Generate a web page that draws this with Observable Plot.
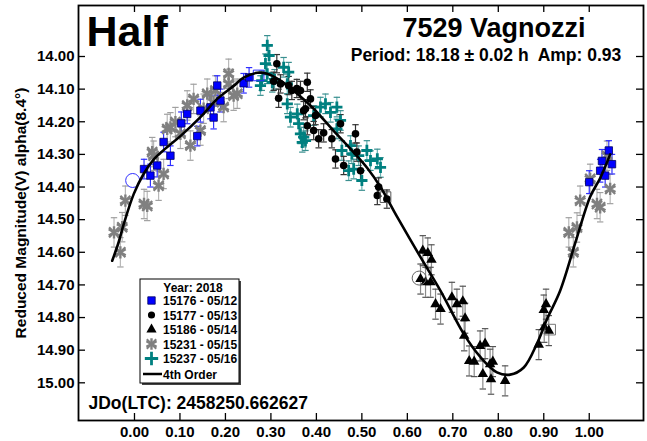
<!DOCTYPE html>
<html><head><meta charset="utf-8">
<script src="https://cdn.jsdelivr.net/npm/d3@7"></script>
<script src="https://cdn.jsdelivr.net/npm/@observablehq/plot@0.6"></script>
<style>body{margin:0;background:#fff} #chart{position:relative;width:647px;height:441px}</style>
</head><body><div id="chart"></div>
<script>
// ---------- data ----------
const xTicks = [0.0,0.1,0.2,0.3,0.4,0.5,0.6,0.7,0.8,0.9,1.0];
const yTicks = [14.0,14.1,14.2,14.3,14.4,14.5,14.6,14.7,14.8,14.9,15.0];

// 15176 - 05/12 (blue squares)
const s15176Phase = [0.021,0.035,0.050,0.064,0.079,0.103,0.116,0.138,0.145,0.167,0.174,0.182,0.189,0.240,0.252,1.000,1.024,1.028,1.035,1.043,1.050];
const s15176Mag   = [14.345,14.365,14.334,14.262,14.304,14.205,14.176,14.244,14.166,14.156,14.187,14.089,14.135,14.082,14.064,14.385,14.350,14.320,14.365,14.288,14.330];
const s15176Err   = [0.030,0.035,0.035,0.030,0.030,0.035,0.030,0.030,0.035,0.035,0.035,0.030,0.035,0.030,0.030,0.035,0.035,0.035,0.035,0.030,0.030];

// 15177 - 05/13 (black circles)
const s15177Phase = [0.306,0.313,0.317,0.321,0.339,0.346,0.357,0.365,0.372,0.376,0.380,0.380,0.387,0.394,0.398,0.405,0.416,0.434,0.442,0.453,0.460,0.486,0.489,0.497,0.534,0.537,0.555];
const s15177Mag   = [14.076,14.022,14.128,14.084,14.089,14.104,14.098,14.104,14.166,14.160,14.079,14.212,14.130,14.227,14.181,14.252,14.234,14.252,14.314,14.206,14.334,14.237,14.293,14.350,14.426,14.400,14.437];
const s15177Err   = 0.028;

// 15186 - 05/14 (black triangles)
const s15186Phase = [0.629,0.634,0.640,0.645,0.651,0.653,0.662,0.673,0.698,0.709,0.722,0.725,0.727,0.736,0.747,0.760,0.766,0.771,0.782,0.784,0.788,0.815,0.889,0.900,0.901,0.905,0.911];
const s15186Mag   = [14.682,14.595,14.692,14.602,14.692,14.623,14.759,14.774,14.738,14.759,14.750,14.856,14.802,14.933,14.935,14.887,14.973,14.880,14.943,14.989,14.935,14.994,14.883,14.777,14.830,14.759,14.840];
const s15186Err   = 0.046;

// 15231 - 05/15 (grey asterisks)
const s15231Phase = [-0.045,-0.031,-0.027,-0.020,0.021,0.028,0.039,0.042,0.053,0.064,0.072,0.079,0.090,0.101,0.116,0.123,0.130,0.145,0.152,0.160,0.174,0.178,0.196,0.207,0.207,0.218,0.226,0.955,0.965,0.973,0.980,1.002,1.017,1.024,1.039,1.046];
const s15231Mag   = [14.539,14.600,14.523,14.442,14.452,14.458,14.293,14.304,14.396,14.360,14.222,14.217,14.201,14.237,14.150,14.273,14.130,14.227,14.160,14.114,14.140,14.104,14.155,14.053,14.084,14.120,14.114,14.539,14.600,14.524,14.442,14.375,14.452,14.462,14.304,14.406];
const s15231Err   = 0.045;

// 15237 - 05/16 (teal plus)
const s15237Phase = [0.277,0.280,0.288,0.292,0.296,0.292,0.303,0.308,0.328,0.336,0.339,0.343,0.336,0.358,0.361,0.365,0.369,0.372,0.376,0.394,0.409,0.420,0.431,0.445,0.445,0.453,0.456,0.471,0.475,0.478,0.482,0.493,0.500,0.511,0.519,0.534,0.541];
const s15237Mag   = [14.089,14.074,14.022,13.966,13.997,14.053,14.079,14.070,14.033,14.084,14.048,14.186,14.145,14.176,14.206,14.237,14.263,14.247,14.258,14.181,14.155,14.145,14.171,14.155,14.222,14.196,14.288,14.350,14.273,14.298,14.345,14.304,14.380,14.288,14.319,14.314,14.340];
const s15237Err   = 0.030;

// 4th order Fourier fit
const fitPhase = [-0.049,-0.035,-0.0235,-0.0015,0.020,0.042,0.070,0.101,0.145,0.182,0.218,0.240,0.270,0.292,0.321,0.358,0.394,0.438,0.475,0.511,0.541,0.577,0.629,0.673,0.724,0.760,0.797,0.826,0.856,0.885,0.907,0.936,0.973,1.002,1.025,1.046];
const fitMag   = [14.626,14.57,14.513,14.421,14.36,14.316,14.28,14.244,14.186,14.130,14.090,14.065,14.050,14.053,14.074,14.114,14.160,14.228,14.283,14.340,14.400,14.490,14.615,14.718,14.850,14.920,14.968,14.975,14.953,14.880,14.805,14.718,14.554,14.430,14.370,14.300];

// marked (outlined) points
const ringPhase = [-0.004,0.626];
const ringMag   = [14.380,14.679];
const ringColor = ["#3030ff","#666666"];
const boxPhase  = [0.273,0.552,0.914];
const boxMag    = [14.058,14.431,14.837];
const boxColor  = ["#3030ff","#555555","#777777"];

const seriesNames = ["15176 - 05/12","15177 - 05/13","15186 - 05/14","15231 - 05/15","15237 - 05/16"];
const yearLabel = "Year: 2018";
const fitLabel = "4th Order";
const titleText = "Half";
const objectText = "7529 Vagnozzi";
const periodText = "Period: 18.18 \u00b1 0.02 h  Amp: 0.93";
const jdText = "JDo(LTC): 2458250.662627";
const yLabelText = "Reduced Magnitude(V) alpha(8.4\u00b0)";

// ---------- build ----------
const rows = (ph, mg, er) => ph.map((p, i) => ({phase: p, mag: mg[i], err: Array.isArray(er) ? er[i] : er}));
const blue = rows(s15176Phase, s15176Mag, s15176Err);
const circ = rows(s15177Phase, s15177Mag, s15177Err);
const tri  = rows(s15186Phase, s15186Mag, s15186Err);
const star = rows(s15231Phase, s15231Mag, s15231Err);
const plus = rows(s15237Phase, s15237Mag, s15237Err);
const fit  = fitPhase.map((p, i) => ({phase: p, mag: fitMag[i]}));
const rings = ringPhase.map((p, i) => ({phase: p, mag: ringMag[i], c: ringColor[i]}));
const boxes = boxPhase.map((p, i) => ({phase: p, mag: boxMag[i], c: boxColor[i]}));

const cap = {draw(ctx, size) { const r = Math.sqrt(size / Math.PI); ctx.moveTo(-r, 0); ctx.lineTo(r, 0); }};

function errMarks(data, color, capColor) {
  return [
    Plot.ruleX(data, {x: "phase", y1: d => d.mag - d.err, y2: d => d.mag + d.err, stroke: color, strokeWidth: 1.2}),
    Plot.dot(data, {x: "phase", y: d => d.mag - d.err, symbol: cap, r: 3.2, stroke: capColor || color, strokeWidth: 1.2}),
    Plot.dot(data, {x: "phase", y: d => d.mag + d.err, symbol: cap, r: 3.2, stroke: capColor || color, strokeWidth: 1.2})
  ];
}

const W = 647, H = 441, mL = 78, mR = 4, mT = 5, mB = 21;
const pw = W - mL - mR, ph = H - mT - mB;
const fmt = d3.format(".2f");
const FONT = "'Liberation Sans', Arial, sans-serif";

const chart = Plot.plot({
  width: W, height: H,
  marginLeft: mL, marginRight: mR, marginTop: mT, marginBottom: mB,
  style: {fontFamily: FONT, background: "white", color: "black", overflow: "visible"},
  x: {domain: [-0.1231, 1.1193], label: null},
  y: {domain: [13.8437, 15.1155], reverse: true, label: null},
  marks: [
    ...errMarks(star, "#b8b8b8", "#a0a0a0"),
    ...errMarks(tri, "#8a8a8a", "#555555"),
    ...errMarks(blue, "#3030ff"),
    ...errMarks(plus, "#6ab4b4", "#3a8f8f"),
    ...errMarks(circ, "#333333"),
    Plot.dot(star, {x: "phase", y: "mag", symbol: "asterisk", r: 5.8, stroke: "#808080", strokeWidth: 2.4}),
    Plot.dot(star, {x: "phase", y: "mag", symbol: "times", r: 4.6, stroke: "#808080", strokeWidth: 2.2}),
    Plot.dot(blue, {x: "phase", y: "mag", symbol: "square", r: 4.2, fill: "#0000ff", stroke: "#000060", strokeWidth: 0.8}),
    Plot.dot(plus, {x: "phase", y: "mag", symbol: "plus", r: 3.7, stroke: "#008080", strokeWidth: 2.8}),
    Plot.dot(circ, {x: "phase", y: "mag", symbol: "circle", r: 3.8, fill: "black"}),
    Plot.dot(tri, {x: "phase", y: "mag", symbol: "triangle", r: 3.9, fill: "black"}),
    Plot.dot(rings, {x: "phase", y: "mag", symbol: "circle", r: 7, stroke: "c", fill: "none", strokeWidth: 1}),
    Plot.dot(boxes, {x: "phase", y: "mag", symbol: "square", r: 6, stroke: "c", fill: "none", strokeWidth: 1}),
    Plot.line(fit, {x: "phase", y: "mag", curve: "catmull-rom", stroke: "black", strokeWidth: 2.6}),
    // inside ticks
    Plot.tickX(xTicks, {x: d => d, insetTop: ph - 7, stroke: "black", strokeWidth: 1.3}),
    Plot.tickX(xTicks, {x: d => d, insetBottom: ph - 7, stroke: "black", strokeWidth: 1.3}),
    Plot.tickY(yTicks, {y: d => d, insetRight: pw - 7, stroke: "black", strokeWidth: 1.3}),
    Plot.tickY(yTicks, {y: d => d, insetLeft: pw - 7, stroke: "black", strokeWidth: 1.3}),
    Plot.frame({stroke: "black", strokeWidth: 1.8}),
    Plot.axisX(xTicks, {tickSize: 0, tickPadding: 6, tickFormat: fmt, fontSize: 15, fontWeight: "bold", label: null}),
    Plot.axisY(yTicks, {tickSize: 0, tickPadding: 4, tickFormat: fmt, fontSize: 15, fontWeight: "bold", label: null}),
    // texts
    Plot.text([titleText], {frameAnchor: "top-left", dx: 8, dy: 10, lineAnchor: "top", textAnchor: "start", fontSize: 43, fontWeight: "bold", fill: "black"}),
    Plot.text([objectText], {frameAnchor: "top", dx: 133, dy: 12, lineAnchor: "top", textAnchor: "middle", fontSize: 27, fontWeight: "bold", fill: "black"}),
    Plot.text([periodText], {frameAnchor: "top", dx: 125, dy: 43, lineAnchor: "top", textAnchor: "middle", fontSize: 17.5, fontWeight: "bold", fill: "black"}),
    Plot.text([jdText], {frameAnchor: "bottom-left", dx: 10, dy: -24, lineAnchor: "top", textAnchor: "start", fontSize: 17.5, fontWeight: "bold", fill: "black"}),
    Plot.text([yLabelText], {frameAnchor: "left", rotate: -90, dx: -57, textAnchor: "middle", fontSize: 15.5, fontWeight: "bold", fill: "black"})
  ]
});
document.getElementById("chart").appendChild(chart);

// ---------- legend ----------
const svg = d3.select(chart);
const lg = svg.append("g").attr("font-family", FONT).attr("font-weight", "bold").attr("font-size", 12).attr("fill", "black").attr("text-anchor", "start");
lg.append("rect").attr("x", 142).attr("y", 281).attr("width", 99).attr("height", 104).attr("fill", "#444");
lg.append("rect").attr("x", 140).attr("y", 279).attr("width", 99).attr("height", 104).attr("fill", "white").attr("stroke", "black").attr("stroke-width", 1);
lg.append("text").attr("x", 193).attr("y", 292).attr("text-anchor", "middle").text(yearLabel);
const symDefs = [
  {t: d3.symbolSquare, s: 55, fill: "#0000ff", stroke: "#000060", sw: 0.8},
  {t: d3.symbolCircle, s: 40, fill: "black", stroke: "none", sw: 0},
  {t: d3.symbolTriangle, s: 45, fill: "black", stroke: "none", sw: 0},
  {t: d3.symbolAsterisk, s: 95, fill: "none", stroke: "#808080", sw: 2.4},
  {t: d3.symbolPlus, s: 60, fill: "none", stroke: "#008080", sw: 2.8}
];
seriesNames.forEach((name, i) => {
  const yb = 305 + i * 14.5;
  const sd = symDefs[i];
  lg.append("path").attr("d", d3.symbol(sd.t, sd.s)()).attr("transform", `translate(151.5,${yb - 4.5})`)
    .attr("fill", sd.fill).attr("stroke", sd.stroke).attr("stroke-width", sd.sw);
  if (i === 3) lg.append("path").attr("d", d3.symbol(d3.symbolTimes, 60)()).attr("transform", `translate(151.5,${yb - 4.5})`)
    .attr("fill", "none").attr("stroke", "#808080").attr("stroke-width", 2);
  lg.append("text").attr("x", 163).attr("y", yb).text(name);
});
lg.append("line").attr("x1", 143).attr("x2", 162).attr("y1", 374).attr("y2", 374).attr("stroke", "black").attr("stroke-width", 2.5);
lg.append("text").attr("x", 163).attr("y", 378.5).text(fitLabel);
</script>
</body></html>
